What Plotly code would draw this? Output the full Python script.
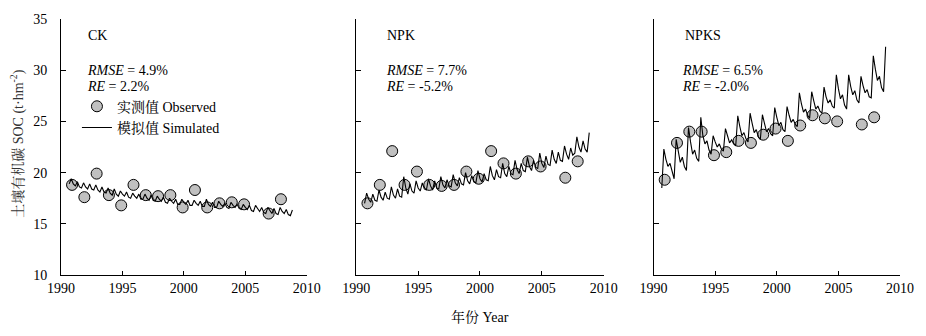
import numpy as np
import plotly.graph_objects as go

# Observed SOC (t/hm2), one sample per year (no sample in 2006)
obs_years = [1990.9, 1991.9, 1992.9, 1993.9, 1994.9, 1995.9, 1996.9, 1997.9,
             1998.9, 1999.9, 2000.9, 2001.9, 2002.9, 2003.9, 2004.9, 2006.9, 2007.9]
obs_ck = [18.8, 17.6, 19.9, 17.8, 16.8, 18.8, 17.8, 17.7, 17.8, 16.6, 18.3,
          16.6, 17.0, 17.1, 16.9, 16.0, 17.4]
obs_npk = [17.0, 18.8, 22.1, 18.8, 20.1, 18.8, 18.7, 18.8, 20.1, 19.4, 22.1,
           20.9, 19.9, 21.1, 20.6, 19.5, 21.1]
obs_npks = [19.3, 22.9, 24.0, 24.0, 21.7, 22.0, 23.1, 22.9, 23.7, 24.3, 23.1,
            24.6, 25.6, 25.3, 25.0, 24.7, 25.4]

# Simulated SOC, two-month model output from Sep 1990 to Nov 2008
sim_time = 1990 + 4 / 6 + np.arange(110) / 6.0
sim_ck = [18.9,
          19.4, 18.9, 18.7, 19.1, 18.6, 18.5,
          19.0, 18.6, 18.4, 18.9, 18.4, 18.3,
          18.8, 18.3, 18.1, 18.6, 18.1, 18.0,
          18.5, 18.0, 17.8, 18.4, 17.9, 17.7,
          18.2, 17.9, 17.7, 18.1, 17.6, 17.5,
          18.0, 17.7, 17.5, 17.9, 17.4, 17.4,
          17.9, 17.5, 17.3, 17.8, 17.3, 17.2,
          17.7, 17.4, 17.2, 17.6, 17.1, 17.0,
          17.5, 17.2, 17.0, 17.4, 16.9, 16.9,
          17.4, 17.1, 16.9, 17.3, 16.8, 16.8,
          17.3, 17.0, 16.8, 17.2, 16.7, 16.7,
          17.4, 16.9, 16.7, 17.1, 16.6, 16.6,
          17.2, 16.9, 16.7, 17.0, 16.6, 16.5,
          17.1, 16.8, 16.6, 16.9, 16.5, 16.4,
          16.9, 16.6, 16.4, 16.8, 16.3, 16.2,
          16.8, 16.5, 16.2, 16.6, 16.1, 16.0,
          16.6, 16.3, 16.0, 16.5, 16.0, 15.9,
          16.6, 16.2, 16.0, 16.4, 15.9, 15.8,
          16.35]
sim_npk = [17.0,
           18.0, 17.4, 17.1, 17.9, 17.3, 17.2,
           18.3, 17.6, 17.3, 18.1, 17.5, 17.4,
           18.6, 17.8, 17.5, 18.4, 17.7, 17.6,
           19.6, 18.5, 17.9, 18.9, 18.2, 18.0,
           19.2, 18.5, 18.2, 19.0, 18.4, 18.3,
           19.4, 18.7, 18.3, 19.2, 18.5, 18.4,
           19.6, 18.8, 18.5, 19.3, 18.7, 18.6,
           19.8, 19.0, 18.7, 19.5, 18.9, 18.8,
           20.0, 19.2, 18.9, 19.7, 19.1, 19.0,
           20.2, 19.4, 19.1, 19.9, 19.3, 19.2,
           20.6, 19.7, 19.3, 20.3, 19.6, 19.5,
           20.9, 19.9, 19.6, 20.6, 19.9, 19.8,
           21.2, 20.3, 19.9, 20.9, 20.2, 20.1,
           21.5, 20.6, 20.2, 21.2, 20.5, 20.4,
           21.9, 20.9, 20.5, 21.6, 20.8, 20.7,
           22.2, 21.3, 20.9, 22.0, 21.2, 21.1,
           22.6, 21.8, 21.3, 22.4, 21.7, 21.9,
           23.5, 22.5, 22.0, 23.1, 22.3, 22.0,
           23.9]
sim_npks = [18.5,
            22.3, 21.3, 20.6, 20.9, 20.0, 19.4,
            23.25, 22.0, 21.0, 21.5, 20.6, 20.2,
            24.4, 23.0, 21.8, 22.2, 21.4, 21.1,
            25.4, 23.6, 22.8, 23.1, 22.2, 21.8,
            23.6, 23.0, 22.5, 22.8, 22.3, 22.1,
            24.3, 23.6, 22.9, 23.2, 22.8, 22.6,
            25.55, 24.5, 23.6, 23.9, 23.3, 23.0,
            25.8, 24.8, 23.9, 24.2, 23.5, 23.25,
            25.65, 24.8, 24.0, 24.3, 23.8, 23.6,
            26.35, 25.4, 24.6, 24.9, 24.2, 24.0,
            26.45, 25.6, 24.9, 25.2, 24.7, 24.5,
            27.8, 26.7, 25.9, 26.2, 25.6, 25.3,
            27.9, 27.0, 26.2, 26.5, 26.0, 25.8,
            28.35, 27.4, 26.8, 27.1, 26.5, 26.3,
            29.55, 28.2, 27.2, 27.6, 26.6, 26.2,
            29.55, 28.4, 27.6, 28.0, 27.1, 26.8,
            29.4, 28.5, 27.8, 28.1, 27.4, 27.3,
            31.4, 30.1, 29.0, 29.4, 28.3, 27.9,
            32.3]

panels = ["CK", "NPK", "NPKS"]
stats = [("4.9%", "2.2%"), ("7.7%", "-5.2%"), ("6.5%", "-2.0%")]
obs_sets = [obs_ck, obs_npk, obs_npks]
sim_sets = [sim_ck, sim_npk, sim_npks]

year_ticks = [1990, 1995, 2000, 2005, 2010]
soc_ticks = [10, 15, 20, 25, 30, 35]

SERIF = "Liberation Serif, Times New Roman, Noto Serif CJK SC, Noto Sans CJK SC, serif"
FS = 14
domains = [[0.0, 0.2929], [0.352, 0.6468], [0.7063, 1.0]]
label_x = [(0.1015, 0.0975), (0.117, 0.113), (0.121, 0.109)]

fig = go.Figure()
for i in range(3):
    xa = "x" if i == 0 else f"x{i + 1}"
    ya = "y" if i == 0 else f"y{i + 1}"
    fig.add_trace(go.Scatter(
        x=obs_years, y=obs_sets[i], mode="markers", xaxis=xa, yaxis=ya,
        name="实测值 Observed", showlegend=(i == 0), legendgroup="obs",
        marker=dict(size=11, color="#c0c0c0", line=dict(color="black", width=1)),
    ))
    fig.add_trace(go.Scatter(
        x=sim_time, y=sim_sets[i], mode="lines", xaxis=xa, yaxis=ya,
        name="模拟值 Simulated", showlegend=(i == 0), legendgroup="sim",
        line=dict(color="black", width=1.1),
    ))

axis_common = dict(showline=True, linecolor="black", linewidth=1, showgrid=False,
                   zeroline=False, ticks="inside", tickcolor="black",
                   tickfont=dict(family=SERIF, size=FS, color="black"))
layout_axes = {}
for i in range(3):
    sx = "" if i == 0 else str(i + 1)
    layout_axes[f"xaxis{sx}"] = dict(axis_common, domain=domains[i], range=[1990, 2010],
                                     tickvals=year_ticks, ticklen=4, anchor=f"y{sx}")
    layout_axes[f"yaxis{sx}"] = dict(axis_common, range=[10, 35], tickvals=soc_ticks,
                                     ticklen=5, anchor=f"x{sx}", domain=[0, 1],
                                     showticklabels=(i == 0), ticklabelstandoff=10)

annotations = []
for i in range(3):
    sx = "" if i == 0 else str(i + 1)
    annotations.append(dict(xref=f"x{sx} domain", yref=f"y{sx} domain",
                            x=label_x[i][0], y=0.935, text=panels[i], showarrow=False,
                            xanchor="left", yanchor="middle",
                            font=dict(family=SERIF, size=FS, color="black")))
    annotations.append(dict(xref=f"x{sx} domain", yref=f"y{sx} domain",
                            x=label_x[i][1], y=0.797,
                            text=f"<i>RMSE</i> = {stats[i][0]}", showarrow=False,
                            xanchor="left", yanchor="middle",
                            font=dict(family=SERIF, size=FS, color="black")))
    annotations.append(dict(xref=f"x{sx} domain", yref=f"y{sx} domain",
                            x=label_x[i][1], y=0.736,
                            text=f"<i>RE</i> = {stats[i][1]}", showarrow=False,
                            xanchor="left", yanchor="middle",
                            font=dict(family=SERIF, size=FS, color="black")))

annotations.append(dict(xref="paper", yref="paper", x=0.4994, y=-0.1648,
                        text="年份 Year", showarrow=False, xanchor="center",
                        yanchor="middle", font=dict(family=SERIF, size=FS, color="black")))
annotations.append(dict(xref="paper", yref="paper", x=-0.0511, y=0.513,
                        text="土壤有机碳 SOC (t·hm<sup>-2</sup>)", showarrow=False,
                        textangle=-90, xanchor="center", yanchor="middle",
                        font=dict(family=SERIF, size=FS, color="#333333")))

fig.update_layout(
    width=926, height=336,
    margin=dict(l=61, r=24, t=14, b=61),
    paper_bgcolor="white", plot_bgcolor="white",
    showlegend=True,
    legend=dict(x=0.019, y=0.72, xanchor="left", yanchor="top",
                bgcolor="rgba(0,0,0,0)", font=dict(family=SERIF, size=FS, color="black"),
                tracegroupgap=0, itemwidth=30),
    annotations=annotations,
    **layout_axes,
)

fig.write_html("out.html")
